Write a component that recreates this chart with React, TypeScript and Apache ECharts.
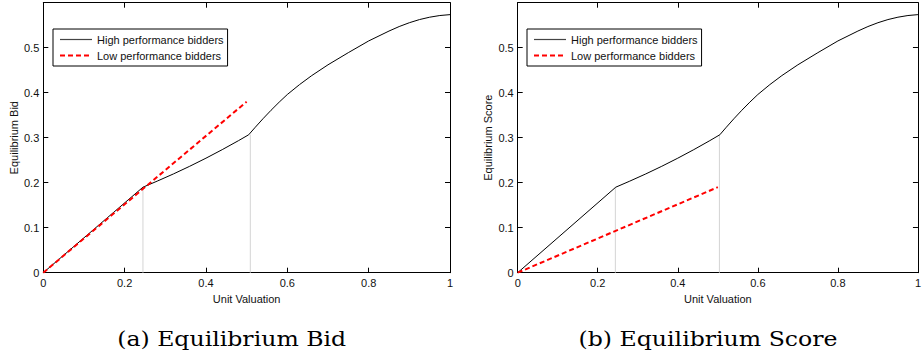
import React, { useEffect, useRef } from "react";
import * as echarts from "echarts";

const highName = "High performance bidders";
const lowName = "Low performance bidders";

// High performance bidders (same curve in both panels)
const highX = [0, 0.245, 0.28, 0.32, 0.36, 0.4, 0.44, 0.48, 0.505, 0.52, 0.54, 0.56, 0.58, 0.6, 0.63, 0.66, 0.7, 0.75, 0.8, 0.85, 0.875, 0.9, 0.925, 0.95, 0.975, 1.0];
const highY = [0, 0.19, 0.2035, 0.2195, 0.2365, 0.2545, 0.2735, 0.2935, 0.3065, 0.322, 0.342, 0.361, 0.379, 0.396, 0.418, 0.438, 0.462, 0.489, 0.515, 0.537, 0.547, 0.5555, 0.5625, 0.5678, 0.5715, 0.5735];

// Low performance bidders
const lowBidX = [0, 0.5];
const lowBidY = [0, 0.38];
const lowScoreX = [0, 0.5];
const lowScoreY = [0, 0.19];

// Gray guide lines (x position, height)
const guideBidX = [0.245, 0.509];
const guideBidY = [0.19, 0.307];
const guideScoreX = [0.244, 0.504];
const guideScoreY = [0.19, 0.306];

const xTicks = [0, 0.2, 0.4, 0.6, 0.8, 1];
const yTickLabels = ["0", "0.1", "0.2", "0.3", "0.4", "0.5"];

const yTitles = ["Equilibrium Bid", "Equilibrium Score"];
const xTitle = "Unit Valuation";
const captions = ["(a) Equilibrium Bid", "(b) Equilibrium Score"];

const zip = (xs: number[], ys: number[]) => xs.map((x, i) => [x, ys[i]]);

export default function App() {
  const ref = useRef<HTMLDivElement>(null);
  useEffect(() => {
    if (!ref.current) return;
    const chart = echarts.init(ref.current, null, { renderer: "svg" });
    const font = "Liberation Sans";
    const grids = [
      { left: 43.3, top: 2.7, width: 406.7, height: 270 },
      { left: 517.7, top: 2.7, width: 405, height: 270 },
    ];
    const tickStyle = { show: true, inside: true, length: 5, lineStyle: { color: "#000", width: 1 } };
    const axisLine = { show: true, onZero: false, lineStyle: { color: "#000", width: 1 } };
    const xAxes: any[] = [];
    const yAxes: any[] = [];
    grids.forEach((_, g) => {
      xAxes.push({
        type: "value", gridIndex: g, min: 0, max: 1, interval: 0.2, position: "bottom",
        axisLine, axisTick: tickStyle, splitLine: { show: false },
        axisLabel: { color: "#111", fontFamily: font, fontSize: 11, margin: 5,
          formatter: (v: number) => { const i = xTicks.findIndex((t) => Math.abs(t - v) < 1e-6); return i >= 0 ? String(xTicks[i]) : ""; } },
        name: xTitle, nameLocation: "middle", nameGap: 13,
        nameTextStyle: { color: "#111", fontFamily: font, fontSize: 11 },
      });
      xAxes.push({
        type: "value", gridIndex: g, min: 0, max: 1, interval: 0.2, position: "top",
        axisLine, axisTick: tickStyle, axisLabel: { show: false }, splitLine: { show: false },
      });
      yAxes.push({
        type: "value", gridIndex: g, min: 0, max: 0.6, interval: 0.1, position: "left",
        axisLine, axisTick: tickStyle, splitLine: { show: false },
        axisLabel: { color: "#111", fontFamily: font, fontSize: 11, margin: 4,
          formatter: (v: number) => { const i = Math.round(v * 10); return i < yTickLabels.length ? yTickLabels[i] : ""; } },
        name: yTitles[g], nameLocation: "middle", nameGap: 24,
        nameTextStyle: { color: "#111", fontFamily: font, fontSize: 11 },
      });
      yAxes.push({
        type: "value", gridIndex: g, min: 0, max: 0.6, interval: 0.1, position: "right",
        axisLine, axisTick: tickStyle, axisLabel: { show: false }, splitLine: { show: false },
      });
    });

    const guideSeries = (xs: number[], ys: number[], g: number) =>
      xs.map((x, i) => ({
        type: "line", xAxisIndex: g * 2, yAxisIndex: g * 2, data: [[x, 0], [x, ys[i]]],
        symbol: "none", silent: true, lineStyle: { color: "#d4d4d4", width: 1 }, z: 1,
      }));

    const highS = (g: number) => ({
      name: highName, type: "line", xAxisIndex: g * 2, yAxisIndex: g * 2, data: zip(highX, highY),
      symbol: "none", lineStyle: { color: "#000", width: 1 }, itemStyle: { color: "#000" }, z: 3,
    });
    const lowS = (g: number, xs: number[], ys: number[]) => ({
      name: lowName, type: "line", xAxisIndex: g * 2, yAxisIndex: g * 2, data: zip(xs, ys),
      symbol: "none", lineStyle: { color: "#ff0000", width: 2, type: [5, 3] }, itemStyle: { color: "#ff0000" }, z: 4,
    });

    const legendBase = {
      orient: "vertical", top: 29, itemWidth: 32, itemHeight: 10, itemGap: 5,
      padding: [5, 4, 5, 6], borderColor: "#000", borderWidth: 1, backgroundColor: "#fff",
      data: [
        { name: highName, lineStyle: { width: 1.2, color: "#444" } },
        { name: lowName, lineStyle: { width: 2, color: "#ff0000" } },
      ],
      textStyle: { color: "#111", fontFamily: font, fontSize: 11 },
      itemStyle: { opacity: 0 },
      selectedMode: false,
    };

    const capStyle = (text: string) => ({ text, fill: "#000", font: "20px 'DejaVu Serif'", textAlign: "center", textVerticalAlign: "middle" });

    chart.setOption({
      animation: false,
      backgroundColor: "#fff",
      grid: grids,
      xAxis: xAxes,
      yAxis: yAxes,
      legend: [
        { ...legendBase, left: 53 },
        { ...legendBase, left: 527 },
      ],
      series: [
        ...guideSeries(guideBidX, guideBidY, 0),
        highS(0),
        lowS(0, lowBidX, lowBidY),
        ...guideSeries(guideScoreX, guideScoreY, 1),
        highS(1),
        lowS(1, lowScoreX, lowScoreY),
      ],
      graphic: [
        { type: "text", x: 231.7, y: 339, scaleX: 1.18, style: capStyle(captions[0]) },
        { type: "text", x: 708, y: 339, scaleX: 1.18, style: capStyle(captions[1]) },
      ],
    });
    return () => chart.dispose();
  }, []);
  return <div ref={ref} style={{ position: "fixed", left: 0, top: 0, width: 924, height: 354 }} />;
}
